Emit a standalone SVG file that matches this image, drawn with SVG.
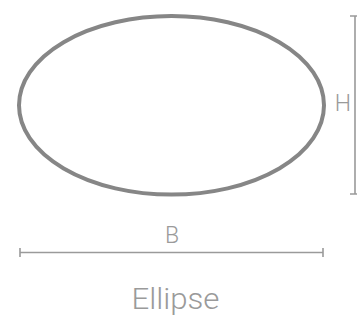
<svg xmlns="http://www.w3.org/2000/svg" width="357" height="320" viewBox="0 0 357 320">
<style>
.dim{stroke:#9a9a9a;stroke-width:1.6;fill:none}
.lbl{font-family:"Liberation Sans Narrow","Roboto","Liberation Sans",sans-serif;font-weight:300;fill:#9a9a9a;text-anchor:middle}
</style>
<rect width="357" height="320" fill="#fff"/>
<g id="ellipse">
<ellipse cx="171.5" cy="105.3" rx="152.5" ry="89.3" fill="none" stroke="#868686" stroke-width="4"/>
</g>
<g id="connectors">
<path class="dim" d="M355 16V194M350 16H357M350 194H357"/>
<path class="dim" d="M20 252.5H323M20 248V257M323 248V257"/>
</g>
<g id="labels">
<text class="lbl" x="343" y="111" font-size="23">H</text>
<text class="lbl" x="172" y="242.5" font-size="23">B</text>
<text class="lbl" x="175.5" y="309" font-size="29" textLength="88" lengthAdjust="spacingAndGlyphs">Ellipse</text>
</g>
</svg>
